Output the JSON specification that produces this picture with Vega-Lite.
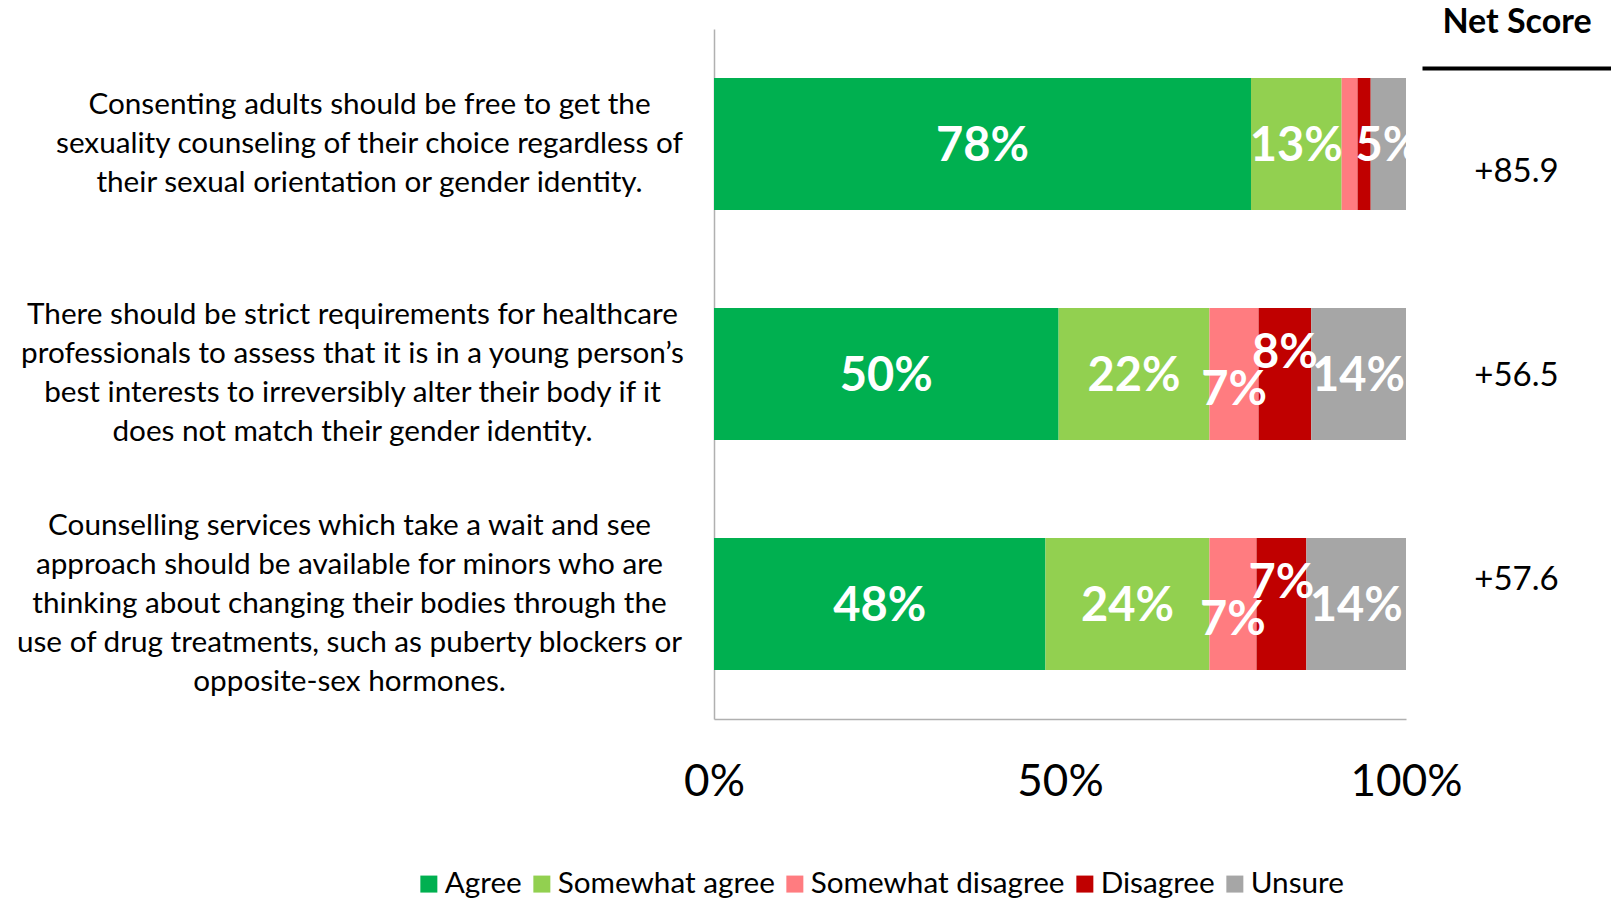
{
  "$schema": "https://vega.github.io/schema/vega-lite/v6.json",
  "padding": {"left": 0, "top": 5, "right": 0, "bottom": 0},
  "background": "white",
  "config": {"view": {"stroke": null}, "font": "Lato"},
  "bounds": "flush",
  "spacing": 16,
  "datasets": {
    "bars": [
      {"q": "Consenting adults should be free to get the|sexuality counseling of their choice regardless of|their sexual orientation or gender identity.", "cat": "Agree", "k": 1, "value": 0.776},
      {"q": "Consenting adults should be free to get the|sexuality counseling of their choice regardless of|their sexual orientation or gender identity.", "cat": "Somewhat agree", "k": 2, "value": 0.131},
      {"q": "Consenting adults should be free to get the|sexuality counseling of their choice regardless of|their sexual orientation or gender identity.", "cat": "Somewhat disagree", "k": 3, "value": 0.023},
      {"q": "Consenting adults should be free to get the|sexuality counseling of their choice regardless of|their sexual orientation or gender identity.", "cat": "Disagree", "k": 4, "value": 0.019},
      {"q": "Consenting adults should be free to get the|sexuality counseling of their choice regardless of|their sexual orientation or gender identity.", "cat": "Unsure", "k": 5, "value": 0.051},
      {"q": "There should be strict requirements for healthcare|professionals to assess that it is in a young person’s|best interests to irreversibly alter their body if it|does not match their gender identity.", "cat": "Agree", "k": 1, "value": 0.498},
      {"q": "There should be strict requirements for healthcare|professionals to assess that it is in a young person’s|best interests to irreversibly alter their body if it|does not match their gender identity.", "cat": "Somewhat agree", "k": 2, "value": 0.218},
      {"q": "There should be strict requirements for healthcare|professionals to assess that it is in a young person’s|best interests to irreversibly alter their body if it|does not match their gender identity.", "cat": "Somewhat disagree", "k": 3, "value": 0.071},
      {"q": "There should be strict requirements for healthcare|professionals to assess that it is in a young person’s|best interests to irreversibly alter their body if it|does not match their gender identity.", "cat": "Disagree", "k": 4, "value": 0.076},
      {"q": "There should be strict requirements for healthcare|professionals to assess that it is in a young person’s|best interests to irreversibly alter their body if it|does not match their gender identity.", "cat": "Unsure", "k": 5, "value": 0.137},
      {"q": "Counselling services which take a wait and see|approach should be available for minors who are|thinking about changing their bodies through the|use of drug treatments, such as puberty blockers or|opposite-sex hormones.", "cat": "Agree", "k": 1, "value": 0.479},
      {"q": "Counselling services which take a wait and see|approach should be available for minors who are|thinking about changing their bodies through the|use of drug treatments, such as puberty blockers or|opposite-sex hormones.", "cat": "Somewhat agree", "k": 2, "value": 0.237},
      {"q": "Counselling services which take a wait and see|approach should be available for minors who are|thinking about changing their bodies through the|use of drug treatments, such as puberty blockers or|opposite-sex hormones.", "cat": "Somewhat disagree", "k": 3, "value": 0.068},
      {"q": "Counselling services which take a wait and see|approach should be available for minors who are|thinking about changing their bodies through the|use of drug treatments, such as puberty blockers or|opposite-sex hormones.", "cat": "Disagree", "k": 4, "value": 0.072},
      {"q": "Counselling services which take a wait and see|approach should be available for minors who are|thinking about changing their bodies through the|use of drug treatments, such as puberty blockers or|opposite-sex hormones.", "cat": "Unsure", "k": 5, "value": 0.144}
    ],
    "net": [
      {"q": "q1", "col": "Net Score", "net": "+85.9"},
      {"q": "q2", "col": "Net Score", "net": "+56.5"},
      {"q": "q3", "col": "Net Score", "net": "+57.6"}
    ]
  },
  "hconcat": [
    {
      "width": 692,
      "height": 690,
      "data": {"name": "bars"},
      "encoding": {
        "y": {
          "field": "q", "type": "nominal", "sort": null,
          "scale": {"paddingInner": 0.426, "paddingOuter": 0.213},
          "axis": {
            "title": null, "ticks": false, "domainColor": "#B0B0B0", "domainWidth": 1.5,
            "labelFont": "Lato", "labelFontSize": 29.7, "labelLineHeight": 39,
            "labelAlign": "center", "labelBaseline": "middle", "labelColor": "black",
            "labelLimit": 1000,
            "labelExpr": "split(datum.label, '|')",
            "labelPadding": {"condition": [
              {"test": "indexof(datum.value, 'Consenting') == 0", "value": 345},
              {"test": "indexof(datum.value, 'There') == 0", "value": 362}
            ], "value": 365},
            "labelOffset": {"condition": [
              {"test": "indexof(datum.value, 'Consenting') == 0", "value": -39},
              {"test": "indexof(datum.value, 'There') == 0", "value": -59}
            ], "value": -78},
            "minExtent": 714, "maxExtent": 714
          }
        }
      },
      "layer": [
        {
          "mark": {"type": "bar"},
          "encoding": {
            "x": {"field": "value", "type": "quantitative", "stack": "zero",
              "scale": {"domain": [0, 1]},
              "axis": {"title": null, "values": [0, 0.5, 1], "format": ".0%", "ticks": false, "grid": false,
                "domainColor": "#B0B0B0", "domainWidth": 1.5, "labelFont": "Lato", "labelFontSize": 44,
                "labelColor": "black", "labelFlush": false, "labelBaseline": "middle", "labelPadding": 63}},
            "color": {"field": "cat", "type": "nominal",
              "scale": {"domain": ["Agree", "Somewhat agree", "Somewhat disagree", "Disagree", "Unsure"],
                        "range": ["#00B050", "#92D050", "#FF7C80", "#C00000", "#A6A6A6"]},
              "legend": {"title": null, "orient": "none", "direction": "horizontal", "legendX": -300, "legendY": 840,
                "symbolType": "square", "symbolSize": 289, "symbolStrokeWidth": 0, "labelFont": "Lato",
                "labelFontSize": 29.7, "labelColor": "black", "labelOffset": 1, "columnPadding": 5, "labelLimit": 400}},
            "order": {"field": "k", "type": "quantitative"}
          }
        },
        {
          "mark": {"type": "text", "font": "Lato", "fontWeight": "bold", "fontSize": 47, "color": "white", "baseline": "middle", "align": "center", "clip": true, "dy": 3},
          "encoding": {
            "x": {"field": "value", "type": "quantitative", "stack": "zero", "bandPosition": 0.5},
            "order": {"field": "k", "type": "quantitative"},
            "text": {"condition": {"test": "datum.cat == 'Agree' || datum.cat == 'Somewhat agree' || datum.cat == 'Unsure'", "field": "value", "type": "quantitative", "format": ".0%"}, "value": ""}
          }
        },
        {
          "mark": {"type": "text", "font": "Lato", "fontWeight": "bold", "fontSize": 47, "color": "white", "baseline": "middle", "align": "center", "clip": true, "dy": 17},
          "encoding": {
            "x": {"field": "value", "type": "quantitative", "stack": "zero", "bandPosition": 0.5},
            "order": {"field": "k", "type": "quantitative"},
            "text": {"condition": {"test": "datum.cat == 'Somewhat disagree' && datum.value >= 0.03", "field": "value", "type": "quantitative", "format": ".0%"}, "value": ""}
          }
        },
        {
          "mark": {"type": "text", "font": "Lato", "fontWeight": "bold", "fontSize": 47, "color": "white", "baseline": "middle", "align": "center", "clip": true, "dy": -20},
          "encoding": {
            "x": {"field": "value", "type": "quantitative", "stack": "zero", "bandPosition": 0.5},
            "order": {"field": "k", "type": "quantitative"},
            "text": {"condition": {"test": "datum.cat == 'Disagree' && datum.value >= 0.03", "field": "value", "type": "quantitative", "format": ".0%"}, "value": ""}
          }
        }
      ]
    },
    {
      "width": 189,
      "height": 690,
      "data": {"name": "net"},
      "mark": {"type": "text", "font": "Lato", "fontSize": 33, "color": "black", "baseline": "middle", "dy": 2},
      "encoding": {
        "y": {"field": "q", "type": "nominal", "sort": null, "scale": {"type": "point", "padding": 0.69}, "axis": null},
        "x": {"field": "col", "type": "nominal",
          "axis": {"orient": "top", "title": null, "offset": -39, "domainColor": "black", "domainWidth": 4,
            "ticks": false, "labelFont": "Lato", "labelFontWeight": "bold", "labelFontSize": 34,
            "labelPadding": 46, "labelBaseline": "middle", "labelAngle": 0, "labelColor": "black"}},
        "text": {"field": "net"}
      }
    }
  ]
}
